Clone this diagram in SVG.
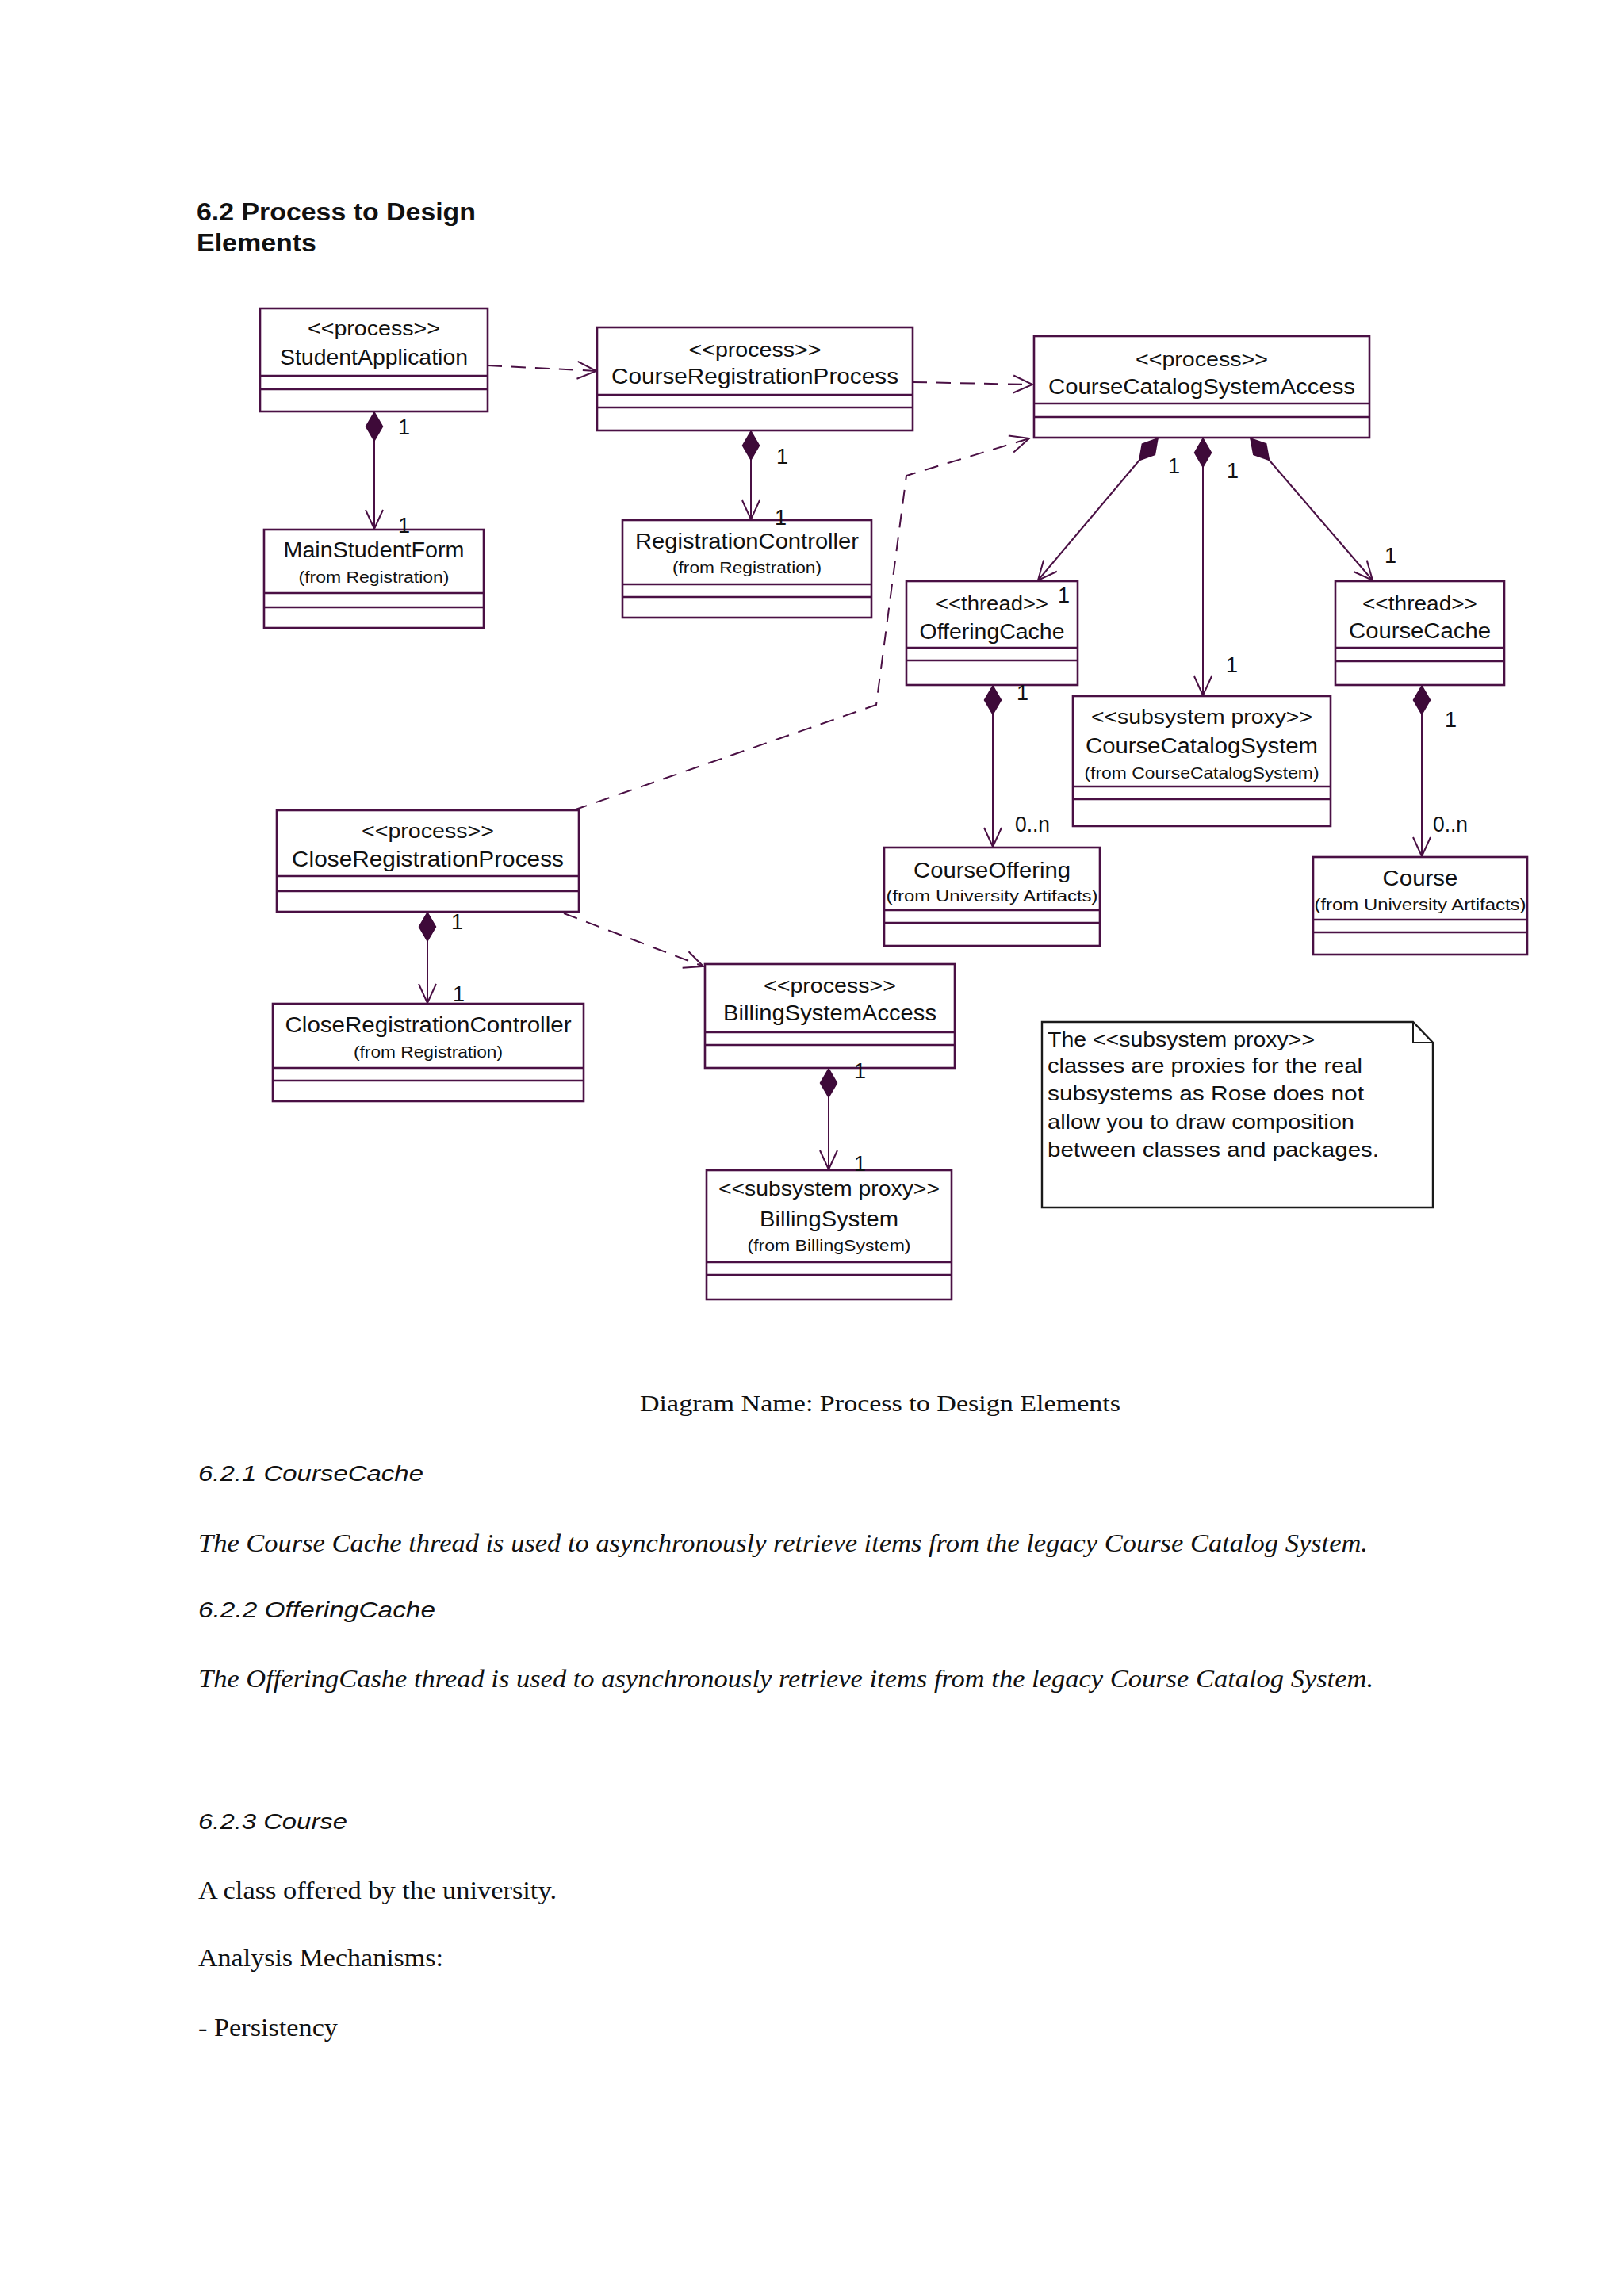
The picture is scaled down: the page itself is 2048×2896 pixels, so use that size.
<svg xmlns="http://www.w3.org/2000/svg" width="2048" height="2896" viewBox="0 0 2048 2896">
<style>
.box{fill:#fff;stroke:#4a1044;stroke-width:2.6}
.div{stroke:#4a1044;stroke-width:2.4}
.t{font-family:"Liberation Sans",Arial,sans-serif;font-size:27px;fill:#111;text-anchor:middle}
.st{font-family:"Liberation Sans",Arial,sans-serif;font-size:25px;fill:#111;text-anchor:middle}
.fr{font-family:"Liberation Sans",Arial,sans-serif;font-size:20px;fill:#111;text-anchor:middle}
.lbl{font-family:"Liberation Sans",Arial,sans-serif;font-size:27px;fill:#111}
.note{font-family:"Liberation Sans",Arial,sans-serif;font-size:25px;fill:#111}
.comp{fill:none;stroke:#4a1044;stroke-width:2;marker-start:url(#diamond);marker-end:url(#open)}
.dep{fill:none;stroke:#4a1044;stroke-width:2;stroke-dasharray:18 12;marker-end:url(#open)}
.serif{font-family:"Liberation Serif","Times New Roman",serif;fill:#111}
.sansi{font-family:"Liberation Sans",Arial,sans-serif;font-style:italic;font-size:28px;fill:#111}
</style>
<defs>
<marker id="diamond" markerUnits="userSpaceOnUse" viewBox="-2 -14 42 28" markerWidth="42" markerHeight="28" refX="0" refY="0" orient="auto" overflow="visible">
<path d="M0,0 L18,-10.5 L36,0 L18,10.5 Z" fill="#3e0a39" stroke="#3e0a39" stroke-width="1.5"/>
</marker>
<marker id="open" markerUnits="userSpaceOnUse" viewBox="-30 -16 34 32" markerWidth="34" markerHeight="32" refX="0" refY="0" orient="auto" overflow="visible">
<path d="M-24,-11 L0,0 L-24,11" fill="none" stroke="#4a1044" stroke-width="2" stroke-dasharray="none"/>
</marker>
</defs>
<rect x="0" y="0" width="2048" height="2896" fill="#fff"/>

<g id="title">
<text x="248" y="278" font-family="Liberation Sans,Arial,sans-serif" font-weight="bold" font-size="32" fill="#111" textLength="352" lengthAdjust="spacingAndGlyphs">6.2 Process  to Design</text>
<text x="248" y="317" font-family="Liberation Sans,Arial,sans-serif" font-weight="bold" font-size="32" fill="#111" textLength="151" lengthAdjust="spacingAndGlyphs">Elements</text>
</g>

<g id="connectors">
<path class="dep" d="M615,461 L752,468"/>
<path class="dep" d="M1151,482 L1302,485"/>
<path class="dep" d="M723,1022 L1105,889 L1143,600 L1298,553"/>
<path class="dep" d="M711,1152 L887,1219"/>
<path class="comp" d="M472,520 L472,667"/>
<path class="comp" d="M947,544 L947,655"/>
<path class="comp" d="M1460,553 L1309,732"/>
<path class="comp" d="M1517,553 L1517,877"/>
<path class="comp" d="M1577,553 L1731,732"/>
<path class="comp" d="M1252,865 L1252,1068"/>
<path class="comp" d="M1793,865 L1793,1080"/>
<path class="comp" d="M539,1151 L539,1265"/>
<path class="comp" d="M1045,1348 L1045,1475"/>
</g>

<g id="StudentApplication">
<rect class="box" x="328" y="389" width="287" height="130"/>
<line class="div" x1="328" y1="474" x2="615" y2="474"/><line class="div" x1="328" y1="491" x2="615" y2="491"/>
<text class="st" x="471.5" y="423" textLength="167" lengthAdjust="spacingAndGlyphs">&lt;&lt;process&gt;&gt;</text>
<text class="t" x="471.5" y="460" textLength="237" lengthAdjust="spacingAndGlyphs">StudentApplication</text>
</g>

<g id="CourseRegistrationProcess">
<rect class="box" x="753" y="413" width="398" height="130"/>
<line class="div" x1="753" y1="498" x2="1151" y2="498"/><line class="div" x1="753" y1="514" x2="1151" y2="514"/>
<text class="st" x="952" y="450" textLength="167" lengthAdjust="spacingAndGlyphs">&lt;&lt;process&gt;&gt;</text>
<text class="t" x="952" y="484" textLength="362" lengthAdjust="spacingAndGlyphs">CourseRegistrationProcess</text>
</g>

<g id="CourseCatalogSystemAccess">
<rect class="box" x="1304" y="424" width="423" height="128"/>
<line class="div" x1="1304" y1="509" x2="1727" y2="509"/><line class="div" x1="1304" y1="526" x2="1727" y2="526"/>
<text class="st" x="1515.5" y="462" textLength="167" lengthAdjust="spacingAndGlyphs">&lt;&lt;process&gt;&gt;</text>
<text class="t" x="1515.5" y="497" textLength="387" lengthAdjust="spacingAndGlyphs">CourseCatalogSystemAccess</text>
</g>

<g id="MainStudentForm">
<rect class="box" x="333" y="668" width="277" height="124"/>
<line class="div" x1="333" y1="748" x2="610" y2="748"/><line class="div" x1="333" y1="766" x2="610" y2="766"/>
<text class="t" x="471.5" y="703" textLength="228" lengthAdjust="spacingAndGlyphs">MainStudentForm</text>
<text class="fr" x="471.5" y="735" textLength="190" lengthAdjust="spacingAndGlyphs">(from Registration)</text>
</g>

<g id="RegistrationController">
<rect class="box" x="785" y="656" width="314" height="123"/>
<line class="div" x1="785" y1="737" x2="1099" y2="737"/><line class="div" x1="785" y1="753" x2="1099" y2="753"/>
<text class="t" x="942" y="692" textLength="282" lengthAdjust="spacingAndGlyphs">RegistrationController</text>
<text class="fr" x="942" y="723" textLength="188" lengthAdjust="spacingAndGlyphs">(from Registration)</text>
</g>

<g id="OfferingCache">
<rect class="box" x="1143" y="733" width="216" height="131"/>
<line class="div" x1="1143" y1="817" x2="1359" y2="817"/><line class="div" x1="1143" y1="833" x2="1359" y2="833"/>
<text class="st" x="1251" y="770" textLength="142" lengthAdjust="spacingAndGlyphs">&lt;&lt;thread&gt;&gt;</text>
<text class="t" x="1251" y="806" textLength="183" lengthAdjust="spacingAndGlyphs">OfferingCache</text>
</g>

<g id="CourseCache">
<rect class="box" x="1684" y="733" width="213" height="131"/>
<line class="div" x1="1684" y1="817" x2="1897" y2="817"/><line class="div" x1="1684" y1="834" x2="1897" y2="834"/>
<text class="st" x="1790.5" y="770" textLength="145" lengthAdjust="spacingAndGlyphs">&lt;&lt;thread&gt;&gt;</text>
<text class="t" x="1790.5" y="805" textLength="179" lengthAdjust="spacingAndGlyphs">CourseCache</text>
</g>

<g id="CourseCatalogSystem">
<rect class="box" x="1353" y="878" width="325" height="164"/>
<line class="div" x1="1353" y1="992" x2="1678" y2="992"/><line class="div" x1="1353" y1="1008" x2="1678" y2="1008"/>
<text class="st" x="1515.5" y="913" textLength="279" lengthAdjust="spacingAndGlyphs">&lt;&lt;subsystem proxy&gt;&gt;</text>
<text class="t" x="1515.5" y="950" textLength="293" lengthAdjust="spacingAndGlyphs">CourseCatalogSystem</text>
<text class="fr" x="1515.5" y="982" textLength="296" lengthAdjust="spacingAndGlyphs">(from CourseCatalogSystem)</text>
</g>

<g id="CourseOffering">
<rect class="box" x="1115" y="1069" width="272" height="124"/>
<line class="div" x1="1115" y1="1148" x2="1387" y2="1148"/><line class="div" x1="1115" y1="1164" x2="1387" y2="1164"/>
<text class="t" x="1251" y="1107" textLength="198" lengthAdjust="spacingAndGlyphs">CourseOffering</text>
<text class="fr" x="1251" y="1137" textLength="267" lengthAdjust="spacingAndGlyphs">(from University Artifacts)</text>
</g>

<g id="Course">
<rect class="box" x="1656" y="1081" width="270" height="123"/>
<line class="div" x1="1656" y1="1160" x2="1926" y2="1160"/><line class="div" x1="1656" y1="1176" x2="1926" y2="1176"/>
<text class="t" x="1791" y="1117" textLength="95" lengthAdjust="spacingAndGlyphs">Course</text>
<text class="fr" x="1791" y="1148" textLength="267" lengthAdjust="spacingAndGlyphs">(from University Artifacts)</text>
</g>

<g id="CloseRegistrationProcess">
<rect class="box" x="349" y="1022" width="381" height="128"/>
<line class="div" x1="349" y1="1105" x2="730" y2="1105"/><line class="div" x1="349" y1="1124" x2="730" y2="1124"/>
<text class="st" x="539.5" y="1057" textLength="167" lengthAdjust="spacingAndGlyphs">&lt;&lt;process&gt;&gt;</text>
<text class="t" x="539.5" y="1093" textLength="343" lengthAdjust="spacingAndGlyphs">CloseRegistrationProcess</text>
</g>

<g id="CloseRegistrationController">
<rect class="box" x="344" y="1266" width="392" height="123"/>
<line class="div" x1="344" y1="1347" x2="736" y2="1347"/><line class="div" x1="344" y1="1363" x2="736" y2="1363"/>
<text class="t" x="540" y="1302" textLength="361" lengthAdjust="spacingAndGlyphs">CloseRegistrationController</text>
<text class="fr" x="540" y="1334" textLength="188" lengthAdjust="spacingAndGlyphs">(from Registration)</text>
</g>

<g id="BillingSystemAccess">
<rect class="box" x="889" y="1216" width="315" height="131"/>
<line class="div" x1="889" y1="1302" x2="1204" y2="1302"/><line class="div" x1="889" y1="1318" x2="1204" y2="1318"/>
<text class="st" x="1046.5" y="1252" textLength="167" lengthAdjust="spacingAndGlyphs">&lt;&lt;process&gt;&gt;</text>
<text class="t" x="1046.5" y="1287" textLength="269" lengthAdjust="spacingAndGlyphs">BillingSystemAccess</text>
</g>

<g id="BillingSystem">
<rect class="box" x="891" y="1476" width="309" height="163"/>
<line class="div" x1="891" y1="1592" x2="1200" y2="1592"/><line class="div" x1="891" y1="1608" x2="1200" y2="1608"/>
<text class="st" x="1045.5" y="1508" textLength="279" lengthAdjust="spacingAndGlyphs">&lt;&lt;subsystem proxy&gt;&gt;</text>
<text class="t" x="1045.5" y="1547" textLength="175" lengthAdjust="spacingAndGlyphs">BillingSystem</text>
<text class="fr" x="1045.5" y="1578" textLength="206" lengthAdjust="spacingAndGlyphs">(from BillingSystem)</text>
</g>

<g id="Note">
<path d="M1314,1289 L1782,1289 L1807,1315 L1807,1523 L1314,1523 Z" fill="#fff" stroke="#1a1a1a" stroke-width="2.4"/>
<path d="M1782,1289 L1782,1315 L1807,1315" fill="none" stroke="#1a1a1a" stroke-width="2"/>
<text class="note" x="1321" y="1320" textLength="337" lengthAdjust="spacingAndGlyphs">The &lt;&lt;subsystem proxy&gt;&gt;</text>
<text class="note" x="1321" y="1353" textLength="397" lengthAdjust="spacingAndGlyphs">classes are proxies for the real</text>
<text class="note" x="1321" y="1388" textLength="399" lengthAdjust="spacingAndGlyphs">subsystems as Rose does not</text>
<text class="note" x="1321" y="1424" textLength="387" lengthAdjust="spacingAndGlyphs">allow you to draw composition</text>
<text class="note" x="1321" y="1459" textLength="418" lengthAdjust="spacingAndGlyphs">between classes and packages.</text>
</g>

<g id="multiplicities">
<text class="lbl" x="502" y="548">1</text>
<text class="lbl" x="502" y="672">1</text>
<text class="lbl" x="979" y="585">1</text>
<text class="lbl" x="977" y="662">1</text>
<text class="lbl" x="1473" y="597">1</text>
<text class="lbl" x="1334" y="760">1</text>
<text class="lbl" x="1547" y="603">1</text>
<text class="lbl" x="1546" y="848">1</text>
<text class="lbl" x="1746" y="710">1</text>
<text class="lbl" x="1282" y="883">1</text>
<text class="lbl" x="1280" y="1049" textLength="44" lengthAdjust="spacingAndGlyphs">0..n</text>
<text class="lbl" x="1822" y="917">1</text>
<text class="lbl" x="1807" y="1049" textLength="44" lengthAdjust="spacingAndGlyphs">0..n</text>
<text class="lbl" x="569" y="1172">1</text>
<text class="lbl" x="571" y="1263">1</text>
<text class="lbl" x="1077" y="1360">1</text>
<text class="lbl" x="1077" y="1477">1</text>
</g>

<g id="body-text">
<text class="serif" x="807" y="1780" font-size="30" textLength="606" lengthAdjust="spacingAndGlyphs">Diagram Name:  Process to Design Elements</text>
<text class="sansi" x="250" y="1868" textLength="284" lengthAdjust="spacingAndGlyphs">6.2.1 CourseCache</text>
<text class="serif" x="250" y="1957" font-size="31" font-style="italic" textLength="1475" lengthAdjust="spacingAndGlyphs">The Course Cache thread is used to asynchronously retrieve items from the legacy Course Catalog System.</text>
<text class="sansi" x="250" y="2040" textLength="299" lengthAdjust="spacingAndGlyphs">6.2.2 OfferingCache</text>
<text class="serif" x="250" y="2128" font-size="31" font-style="italic" textLength="1482" lengthAdjust="spacingAndGlyphs">The OfferingCashe thread is used to asynchronously retrieve items from the legacy Course Catalog System.</text>
<text class="sansi" x="250" y="2307" textLength="188" lengthAdjust="spacingAndGlyphs">6.2.3 Course</text>
<text class="serif" x="250" y="2395" font-size="32" textLength="452" lengthAdjust="spacingAndGlyphs">A class offered by the university.</text>
<text class="serif" x="250" y="2480" font-size="32" textLength="309" lengthAdjust="spacingAndGlyphs">Analysis Mechanisms:</text>
<text class="serif" x="250" y="2568" font-size="32" textLength="176" lengthAdjust="spacingAndGlyphs">- Persistency</text>
</g>
</svg>
